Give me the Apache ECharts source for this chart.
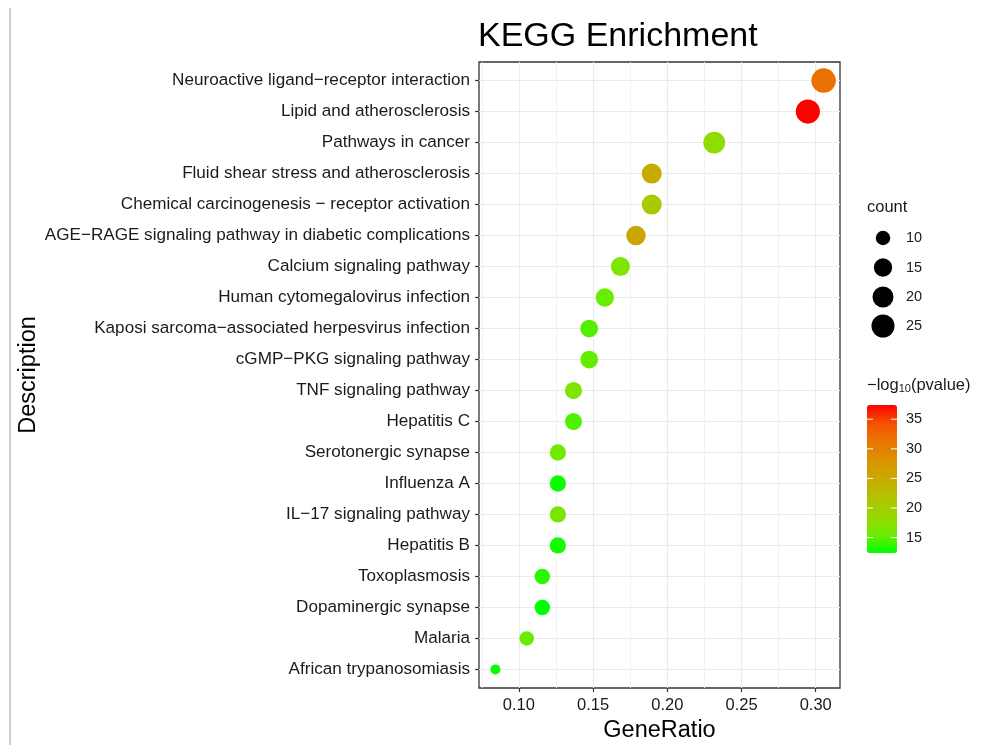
<!DOCTYPE html>
<html>
<head>
<meta charset="utf-8">
<title>KEGG Enrichment</title>
<script src="https://cdn.jsdelivr.net/npm/echarts@6/dist/echarts.min.js"></script>
<style>
  html, body { margin: 0; padding: 0; background: #ffffff; }
  #chart { width: 984px; height: 745px; }
</style>
</head>
<body>
<div id="chart"></div>
<script>
// KEGG pathway enrichment, one dot per pathway (top to bottom)
const descriptions = [
  "Neuroactive ligand\u2212receptor interaction",
  "Lipid and atherosclerosis",
  "Pathways in cancer",
  "Fluid shear stress and atherosclerosis",
  "Chemical carcinogenesis \u2212 receptor activation",
  "AGE\u2212RAGE signaling pathway in diabetic complications",
  "Calcium signaling pathway",
  "Human cytomegalovirus infection",
  "Kaposi sarcoma\u2212associated herpesvirus infection",
  "cGMP\u2212PKG signaling pathway",
  "TNF signaling pathway",
  "Hepatitis C",
  "Serotonergic synapse",
  "Influenza A",
  "IL\u221217 signaling pathway",
  "Hepatitis B",
  "Toxoplasmosis",
  "Dopaminergic synapse",
  "Malaria",
  "African trypanosomiasis"
];
const geneRatio = [0.3053, 0.2947, 0.2316, 0.1895, 0.1895, 0.1789, 0.1684, 0.1579, 0.1474, 0.1474,
                   0.1368, 0.1368, 0.1263, 0.1263, 0.1263, 0.1263, 0.1158, 0.1158, 0.1053, 0.0842];
const geneCount = [29, 28, 22, 18, 18, 17, 16, 15, 14, 14, 13, 13, 12, 12, 12, 12, 11, 11, 10, 8];
const negLog10P = [31.8, 37.4, 17.9, 24.9, 20.6, 25.5, 16.6, 15.3, 14.7, 15.1,
                   16.8, 14.6, 15.8, 12.8, 16.3, 13.0, 13.6, 12.4, 15.3, 12.8];

// Axis breaks and legend keys
const xBreaks = [0.10, 0.15, 0.20, 0.25, 0.30];
const xMinorBreaks = [0.075, 0.125, 0.175, 0.225, 0.275, 0.325];
const countKeys = [10, 15, 20, 25];
const colorKeys = [15, 20, 25, 30, 35];

// green -> red gradient sampled along Lab space
const gradient = ['#00FF00', '#70EB00', '#98D700', '#B3C200', '#C8AB00',
                  '#DA9300', '#E87700', '#F45300', '#FF0000'];

const FONT = "'Liberation Sans', Arial, Helvetica, sans-serif";
const TEXT = '#1a1a1a';

// continuous scales
const xLo = Math.min(...geneRatio), xHi = Math.max(...geneRatio);
const xPad = (xHi - xLo) * 0.05;
const xMin = xLo - xPad, xMax = xHi + xPad;
const cMin = Math.min(...geneCount), cMax = Math.max(...geneCount);
const pMin = Math.min(...negLog10P), pMax = Math.max(...negLog10P);
const sizeOf = c => 10 + 14.5 * Math.sqrt(Math.max(0, c - cMin) / (cMax - cMin));

// panel and legend geometry
const panel = { left: 479, top: 62, width: 361, height: 626 };
const bar = { left: 867, top: 405, width: 30, height: 148 };
const legendX = 867, keyX = 883, keyLabelX = 906;
const countKeyY = [238, 267.5, 297, 326];

const points = geneRatio.map((g, i) => [g, i, negLog10P[i], geneCount[i]]);
const rowIdx = descriptions.map((d, i) => i);

const graphics = [];
// frame line at the far left
graphics.push({ type: 'line', shape: { x1: 10, y1: 8, x2: 10, y2: 745 },
  style: { stroke: '#cfcfcf', lineWidth: 2 }, silent: true });
// size legend
graphics.push({ type: 'text', style: { text: 'count', x: legendX, y: 207, fill: TEXT,
  fontSize: 16.5, fontFamily: FONT, verticalAlign: 'middle' } });
countKeys.forEach((c, k) => {
  graphics.push({ type: 'circle', shape: { cx: keyX, cy: countKeyY[k], r: sizeOf(c) / 2 },
    style: { fill: '#000' } });
  graphics.push({ type: 'text', style: { text: String(c), x: keyLabelX, y: countKeyY[k], fill: TEXT,
    fontSize: 14.5, fontFamily: FONT, verticalAlign: 'middle' } });
});
// colour legend title and ticks
graphics.push({ type: 'text', style: {
  text: '{a|\u2212log}{s|10}{a|(pvalue)}', x: legendX, y: 385, verticalAlign: 'middle',
  rich: {
    a: { fontSize: 16.5, fontFamily: FONT, fill: TEXT },
    s: { fontSize: 11, fontFamily: FONT, fill: TEXT, padding: [8, 0, 0, 0] }
  } } });
colorKeys.forEach(v => {
  const y = bar.top + (pMax - v) / (pMax - pMin) * bar.height;
  graphics.push({ type: 'line', shape: { x1: bar.left, y1: y, x2: bar.left + 6, y2: y },
    style: { stroke: '#ffffff', lineWidth: 1 }, z: 100 });
  graphics.push({ type: 'line', shape: { x1: bar.left + bar.width - 6, y1: y, x2: bar.left + bar.width, y2: y },
    style: { stroke: '#ffffff', lineWidth: 1 }, z: 100 });
  graphics.push({ type: 'text', style: { text: String(v), x: keyLabelX, y: y, fill: TEXT,
    fontSize: 14.5, fontFamily: FONT, verticalAlign: 'middle' } });
});

// helper for hidden axes that only carry grid lines
const gridOnlyAxis = (values, color, width) => ({
  type: 'value', min: xMin, max: xMax, position: 'bottom',
  axisLine: { show: false, onZero: false },
  axisTick: { show: false, customValues: values },
  axisLabel: { show: false, customValues: values },
  splitLine: { show: true, lineStyle: { color: color, width: width } }
});

const chart = echarts.init(document.getElementById('chart'), null, { renderer: 'canvas' });
chart.setOption({
  backgroundColor: '#ffffff',
  animation: false,
  title: {
    text: 'KEGG Enrichment', left: panel.left - 1, top: 20, padding: 0,
    textStyle: { fontSize: 34, fontWeight: 'normal', color: '#000', fontFamily: FONT }
  },
  grid: {
    left: panel.left, top: panel.top, width: panel.width, height: panel.height,
    containLabel: false, outerBoundsMode: 'none',
    show: true, borderColor: '#333333', borderWidth: 1.3, backgroundColor: 'transparent'
  },
  xAxis: [{
    type: 'value', min: xMin, max: xMax, position: 'bottom',
    name: 'GeneRatio', nameLocation: 'middle', nameGap: 25,
    nameTextStyle: { fontSize: 23.5, color: '#000', fontFamily: FONT },
    axisLine: { show: false, onZero: false },
    axisTick: { show: true, length: 4, customValues: xBreaks, lineStyle: { color: '#333', width: 1.2 } },
    axisLabel: { customValues: xBreaks, formatter: v => v.toFixed(2), margin: 9,
      fontSize: 16.5, color: TEXT, fontFamily: FONT },
    splitLine: { show: false }
  },
    gridOnlyAxis(xBreaks, '#ebebeb', 1.1),
    gridOnlyAxis(xMinorBreaks, '#f0f0f0', 0.9)
  ],
  yAxis: {
    type: 'value', inverse: true, min: -0.6, max: descriptions.length - 1 + 0.6,
    name: 'Description', nameLocation: 'middle', nameGap: 437, nameRotate: 90,
    nameTextStyle: { fontSize: 23.5, color: '#000', fontFamily: FONT },
    axisLine: { show: false, onZero: false },
    axisTick: { show: true, length: 4, customValues: rowIdx,
      lineStyle: { color: '#333', width: 1.2 } },
    axisLabel: { customValues: rowIdx, formatter: v => descriptions[v],
      margin: 9, fontSize: 17.1, color: TEXT, fontFamily: FONT },
    splitLine: { show: true, lineStyle: { color: '#ebebeb', width: 1.1 } }
  },
  visualMap: {
    type: 'continuous', seriesIndex: 0, dimension: 2, min: pMin, max: pMax,
    calculable: false, hoverLink: false, realtime: false,
    left: bar.left, top: bar.top, padding: 0,
    itemWidth: bar.width, itemHeight: bar.height,
    inRange: { color: gradient },
    textStyle: { color: 'transparent' }
  },
  series: [{
    type: 'scatter', xAxisIndex: 0, yAxisIndex: 0,
    data: points,
    symbol: 'circle',
    symbolSize: v => sizeOf(v[3]),
    itemStyle: { opacity: 1, borderWidth: 0 },
    z: 5
  }],
  graphic: graphics
});
</script>
</body>
</html>
